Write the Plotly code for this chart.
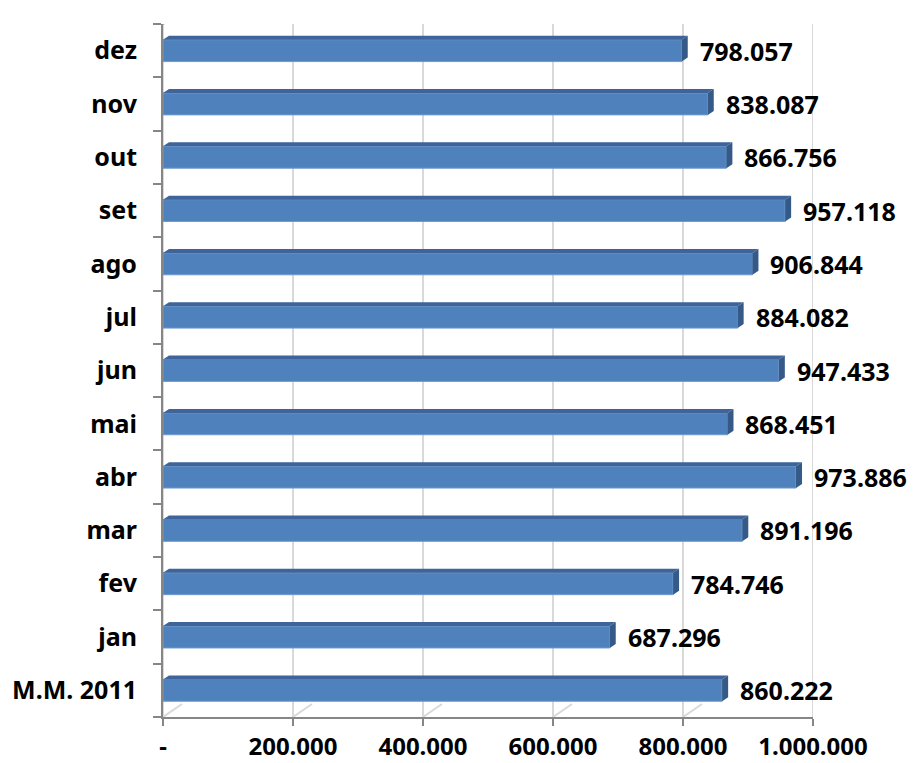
import plotly.graph_objects as go

# data (bottom to top)
categories = ["M.M. 2011", "jan", "fev", "mar", "abr", "mai", "jun",
              "jul", "ago", "set", "out", "nov", "dez"]
values = [860222, 687296, 784746, 891196, 973886, 868451, 947433,
          884082, 906844, 957118, 866756, 838087, 798057]
x_ticks = [0, 200000, 400000, 600000, 800000, 1000000]
x_ticktext = ["-", "200.000", "400.000", "600.000", "800.000", "1.000.000"]

# geometry in pixels (excel-like 3d look)
W, H = 913, 763
ml, mr, mt, mb = 163, 81, 11, 46
front_w, front_h = 650, 693      # front axes box
depth_x, depth_y = 19, 13        # back wall offset
bar_dx, bar_dy = 5, 3.5          # bar front face offset
cap_dx, cap_dy = 6, 4            # bar thickness
bar_w = 0.41

pw, ph = W - ml - mr, H - mt - mb
x_max = 1000000
n = len(categories)
ux = x_max / front_w             # data units per px
uy = n / front_h

FONT = "Noto Sans"
FS = 25
fig = go.Figure()

# front bar faces on their own layer
fig.add_trace(go.Bar(x=values, y=list(range(n)), orientation="h", width=bar_w,
                     marker=dict(color="#4f81bd", line=dict(color="#6f9bd0", width=1)),
                     xaxis="x3", yaxis="y3", hoverinfo="skip"))

# top faces and end caps
tx, ty, cx, cy = [], [], [], []
for i, v in enumerate(values):
    top = i + bar_w / 2
    bot = i - bar_w / 2
    tx += [0, v, v + cap_dx * ux, cap_dx * ux, 0, None]
    ty += [top, top, top + cap_dy * uy, top + cap_dy * uy, top, None]
    cx += [v, v + cap_dx * ux, v + cap_dx * ux, v, v, None]
    cy += [bot, bot + cap_dy * uy, top + cap_dy * uy, top, bot, None]

fig.add_trace(go.Scatter(x=tx, y=ty, fill="toself", fillcolor="#3e649a", mode="lines",
                         line=dict(width=0), xaxis="x3", yaxis="y3", hoverinfo="skip"))
fig.add_trace(go.Scatter(x=cx, y=cy, fill="toself", fillcolor="#365a88", mode="lines",
                         line=dict(width=0), xaxis="x3", yaxis="y3", hoverinfo="skip"))

# value labels
for i, v in enumerate(values):
    fig.add_annotation(x=v, y=i, xref="x3", yref="y3", xanchor="left", xshift=cap_dx + 10,
                       text=f"{v:,}".replace(",", "."), showarrow=False,
                       font=dict(family=FONT, size=FS, color="black", weight="bold"))

# back wall gridlines
for t in x_ticks:
    fig.add_shape(type="line", xref="x2", yref="y2 domain", x0=t, x1=t, y0=0, y1=1,
                  line=dict(color="#d9d9d9", width=2), layer="below")

# floor diagonals and top-left corner edge
for t in x_ticks:
    fig.add_shape(type="line", xref="x", yref="y", xsizemode="pixel", ysizemode="pixel",
                  xanchor=t, yanchor=-0.5, x0=0, x1=depth_x, y0=0, y1=depth_y,
                  line=dict(color="#d9d9d9", width=2), layer="below")
fig.add_shape(type="line", xref="x", yref="y", xsizemode="pixel", ysizemode="pixel",
              xanchor=0, yanchor=n - 0.5, x0=0, x1=depth_x, y0=0, y1=depth_y,
              line=dict(color="#868686", width=2))

fig.update_layout(
    width=W, height=H,
    margin=dict(l=ml, r=mr, t=mt, b=mb, autoexpand=False),
    paper_bgcolor="white", plot_bgcolor="rgba(0,0,0,0)",
    showlegend=False,
    xaxis=dict(range=[0, x_max], domain=[0, front_w / pw], tickvals=x_ticks,
               ticktext=x_ticktext, showgrid=False, zeroline=False, automargin=False,
               showline=True, linecolor="#868686", linewidth=2,
               ticks="outside", ticklen=7, tickcolor="#868686", tickwidth=2,
               ticklabelstandoff=0,
               tickfont=dict(family=FONT, size=24, color="black", weight="bold")),
    yaxis=dict(range=[-0.5, n - 0.5], domain=[0, front_h / ph], tickvals=list(range(n)),
               ticktext=categories, showgrid=False, zeroline=False, automargin=False,
               showline=True, linecolor="#868686", linewidth=2, ticks="",
               minor=dict(tick0=0.5, dtick=1, ticks="outside", ticklen=8,
                          tickcolor="#868686", tickwidth=2, showgrid=False),
               ticklabelstandoff=19,
               tickfont=dict(family=FONT, size=FS, color="black", weight="bold")),
    # back wall
    xaxis2=dict(range=[0, x_max], domain=[depth_x / pw, 1], overlaying="x", anchor="y2",
                visible=False),
    yaxis2=dict(range=[-0.5, n - 0.5], domain=[depth_y / ph, 1], overlaying="y", anchor="x2",
                visible=False),
    # bar layer
    xaxis3=dict(range=[0, x_max], domain=[bar_dx / pw, (front_w + bar_dx) / pw],
                overlaying="x", anchor="y3", visible=False),
    yaxis3=dict(range=[-0.5, n - 0.5], domain=[bar_dy / ph, (front_h + bar_dy) / ph],
                overlaying="y", anchor="x3", visible=False),
)

# no page margin so the figure sits at the window's top-left corner
fig.write_html("out.html", config={"displayModeBar": False},
               post_script="document.body.style.margin='0';")
